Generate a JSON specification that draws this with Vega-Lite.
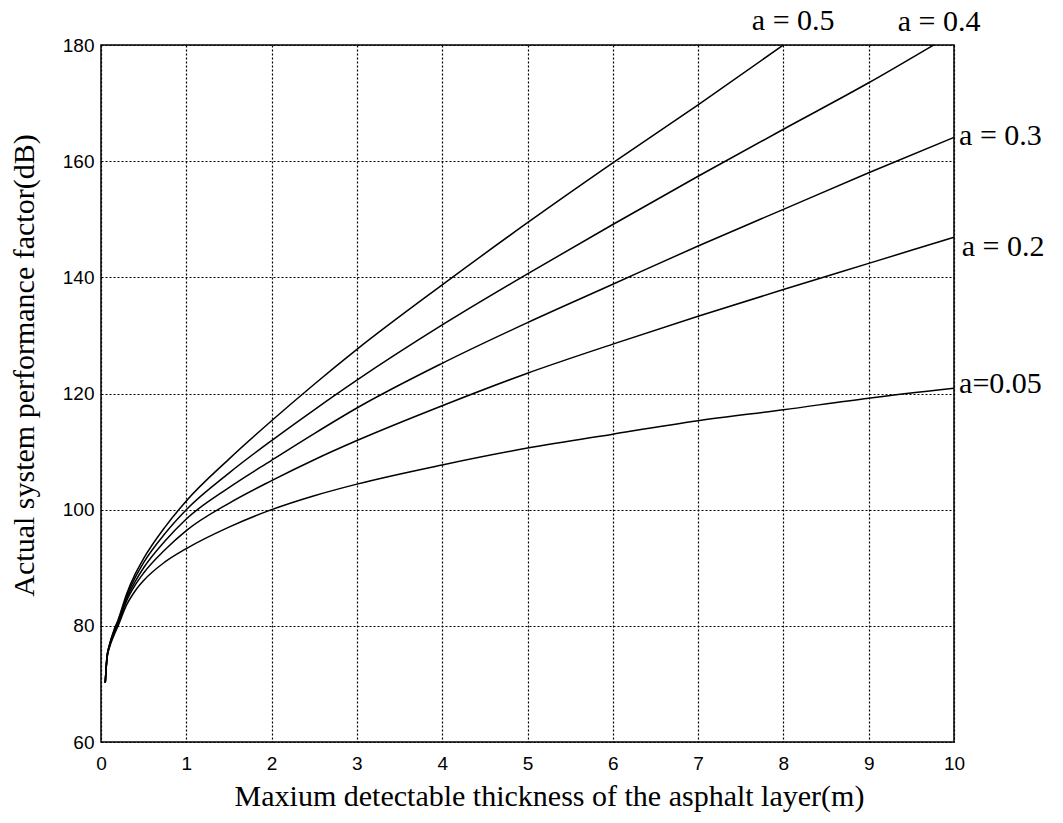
{
  "$schema": "https://vega.github.io/schema/vega-lite/v6.json",
  "width": 853,
  "height": 697,
  "autosize": {"type": "none"},
  "padding": {"left": 101, "top": 45, "right": 109, "bottom": 81},
  "background": "white",
  "config": {
    "view": {"stroke": "black", "strokeWidth": 1.5},
    "axis": {
      "domain": false,
      "ticks": false,
      "grid": true,
      "gridColor": "black",
      "gridOpacity": 1,
      "gridWidth": 1.2,
      "gridDash": [2, 2],
      "labelFont": "Liberation Sans",
      "labelFontSize": 19,
      "labelColor": "black",
      "labelFlush": false,
      "labelOverlap": false,
      "titleFont": "Liberation Serif",
      "titleFontSize": 30,
      "titleFontWeight": "normal",
      "titleColor": "black"
    }
  },
  "datasets": {
    "curves": [
      {"a": "0.05", "x": 0.05, "y": 70.2}, {"a": "0.05", "x": 0.07, "y": 74.3}, {"a": "0.05", "x": 0.1, "y": 76.3}, {"a": "0.05", "x": 0.15, "y": 78.3}, {"a": "0.05", "x": 0.2, "y": 80.0}, {"a": "0.05", "x": 0.3, "y": 83.6}, {"a": "0.05", "x": 0.4, "y": 86.0}, {"a": "0.05", "x": 0.5, "y": 87.8}, {"a": "0.05", "x": 0.75, "y": 91.0}, {"a": "0.05", "x": 1, "y": 93.3}, {"a": "0.05", "x": 1.5, "y": 97.0}, {"a": "0.05", "x": 2, "y": 100.0}, {"a": "0.05", "x": 2.5, "y": 102.4}, {"a": "0.05", "x": 3, "y": 104.4}, {"a": "0.05", "x": 4, "y": 107.7}, {"a": "0.05", "x": 5, "y": 110.6}, {"a": "0.05", "x": 6, "y": 113.0}, {"a": "0.05", "x": 7, "y": 115.3}, {"a": "0.05", "x": 8, "y": 117.2}, {"a": "0.05", "x": 9, "y": 119.2}, {"a": "0.05", "x": 10, "y": 120.9},
      {"a": "0.2", "x": 0.05, "y": 70.2}, {"a": "0.2", "x": 0.07, "y": 74.4}, {"a": "0.2", "x": 0.1, "y": 76.5}, {"a": "0.2", "x": 0.15, "y": 78.6}, {"a": "0.2", "x": 0.2, "y": 80.4}, {"a": "0.2", "x": 0.3, "y": 84.3}, {"a": "0.2", "x": 0.4, "y": 87.0}, {"a": "0.2", "x": 0.5, "y": 89.1}, {"a": "0.2", "x": 0.75, "y": 93.1}, {"a": "0.2", "x": 1, "y": 96.4}, {"a": "0.2", "x": 1.5, "y": 101.1}, {"a": "0.2", "x": 2, "y": 105.0}, {"a": "0.2", "x": 2.5, "y": 108.6}, {"a": "0.2", "x": 3, "y": 111.9}, {"a": "0.2", "x": 4, "y": 117.9}, {"a": "0.2", "x": 5, "y": 123.5}, {"a": "0.2", "x": 6, "y": 128.5}, {"a": "0.2", "x": 7, "y": 133.3}, {"a": "0.2", "x": 8, "y": 137.9}, {"a": "0.2", "x": 9, "y": 142.4}, {"a": "0.2", "x": 10, "y": 146.9},
      {"a": "0.3", "x": 0.05, "y": 70.2}, {"a": "0.3", "x": 0.07, "y": 74.5}, {"a": "0.3", "x": 0.1, "y": 76.6}, {"a": "0.3", "x": 0.15, "y": 78.8}, {"a": "0.3", "x": 0.2, "y": 80.6}, {"a": "0.3", "x": 0.3, "y": 84.7}, {"a": "0.3", "x": 0.4, "y": 87.6}, {"a": "0.3", "x": 0.5, "y": 90.0}, {"a": "0.3", "x": 0.75, "y": 94.6}, {"a": "0.3", "x": 1, "y": 98.4}, {"a": "0.3", "x": 1.5, "y": 103.8}, {"a": "0.3", "x": 2, "y": 108.5}, {"a": "0.3", "x": 2.5, "y": 113.1}, {"a": "0.3", "x": 3, "y": 117.5}, {"a": "0.3", "x": 4, "y": 125.2}, {"a": "0.3", "x": 5, "y": 132.2}, {"a": "0.3", "x": 6, "y": 138.8}, {"a": "0.3", "x": 7, "y": 145.4}, {"a": "0.3", "x": 8, "y": 151.7}, {"a": "0.3", "x": 9, "y": 158.0}, {"a": "0.3", "x": 10, "y": 164.1},
      {"a": "0.4", "x": 0.05, "y": 70.2}, {"a": "0.4", "x": 0.07, "y": 74.6}, {"a": "0.4", "x": 0.1, "y": 76.7}, {"a": "0.4", "x": 0.15, "y": 79.0}, {"a": "0.4", "x": 0.2, "y": 80.8}, {"a": "0.4", "x": 0.3, "y": 85.1}, {"a": "0.4", "x": 0.4, "y": 88.3}, {"a": "0.4", "x": 0.5, "y": 90.9}, {"a": "0.4", "x": 0.75, "y": 95.9}, {"a": "0.4", "x": 1, "y": 100.0}, {"a": "0.4", "x": 1.5, "y": 106.3}, {"a": "0.4", "x": 2, "y": 111.9}, {"a": "0.4", "x": 2.5, "y": 117.2}, {"a": "0.4", "x": 3, "y": 122.3}, {"a": "0.4", "x": 4, "y": 131.8}, {"a": "0.4", "x": 5, "y": 140.6}, {"a": "0.4", "x": 6, "y": 149.1}, {"a": "0.4", "x": 7, "y": 157.4}, {"a": "0.4", "x": 8, "y": 165.5}, {"a": "0.4", "x": 9, "y": 173.5}, {"a": "0.4", "x": 9.76, "y": 180.0},
      {"a": "0.5", "x": 0.05, "y": 70.2}, {"a": "0.5", "x": 0.07, "y": 74.7}, {"a": "0.5", "x": 0.1, "y": 76.8}, {"a": "0.5", "x": 0.15, "y": 79.2}, {"a": "0.5", "x": 0.2, "y": 81.0}, {"a": "0.5", "x": 0.3, "y": 85.5}, {"a": "0.5", "x": 0.4, "y": 88.9}, {"a": "0.5", "x": 0.5, "y": 91.6}, {"a": "0.5", "x": 0.75, "y": 97.0}, {"a": "0.5", "x": 1, "y": 101.5}, {"a": "0.5", "x": 1.5, "y": 108.7}, {"a": "0.5", "x": 2, "y": 115.3}, {"a": "0.5", "x": 2.5, "y": 121.6}, {"a": "0.5", "x": 3, "y": 127.6}, {"a": "0.5", "x": 4, "y": 138.7}, {"a": "0.5", "x": 5, "y": 149.4}, {"a": "0.5", "x": 6, "y": 159.7}, {"a": "0.5", "x": 7, "y": 169.7}, {"a": "0.5", "x": 8, "y": 180.0}
    ],
    "labels": [
      {"label": "a = 0.5", "x": 7.63, "y": 182.6},
      {"label": "a = 0.4", "x": 9.34, "y": 182.4},
      {"label": "a = 0.3", "x": 10.06, "y": 162.8},
      {"label": "a = 0.2", "x": 10.09, "y": 143.7},
      {"label": "a=0.05", "x": 10.06, "y": 120.1}
    ]
  },
  "layer": [
    {
      "data": {"name": "curves"},
      "mark": {"type": "line", "color": "black", "strokeWidth": 1.5, "interpolate": "monotone"},
      "encoding": {
        "x": {
          "field": "x", "type": "quantitative",
          "scale": {"domain": [0, 10], "nice": false, "zero": false},
          "axis": {"values": [0, 1, 2, 3, 4, 5, 6, 7, 8, 9, 10], "format": "d", "title": "Maxium detectable thickness of the asphalt layer(m)", "labelPadding": 12, "titlePadding": 8, "titleX": 448}
        },
        "y": {
          "field": "y", "type": "quantitative",
          "scale": {"domain": [60, 180], "nice": false, "zero": false},
          "axis": {"values": [60, 80, 100, 120, 140, 160, 180], "format": "d", "title": "Actual system performance factor(dB)", "labelPadding": 7, "titlePadding": 23, "titleY": 320}
        },
        "detail": {"field": "a"}
      }
    },
    {
      "data": {"name": "labels"},
      "mark": {"type": "text", "font": "Liberation Serif", "fontSize": 30, "align": "left", "baseline": "alphabetic", "color": "black"},
      "encoding": {
        "x": {"field": "x", "type": "quantitative"},
        "y": {"field": "y", "type": "quantitative"},
        "text": {"field": "label"}
      }
    }
  ]
}
